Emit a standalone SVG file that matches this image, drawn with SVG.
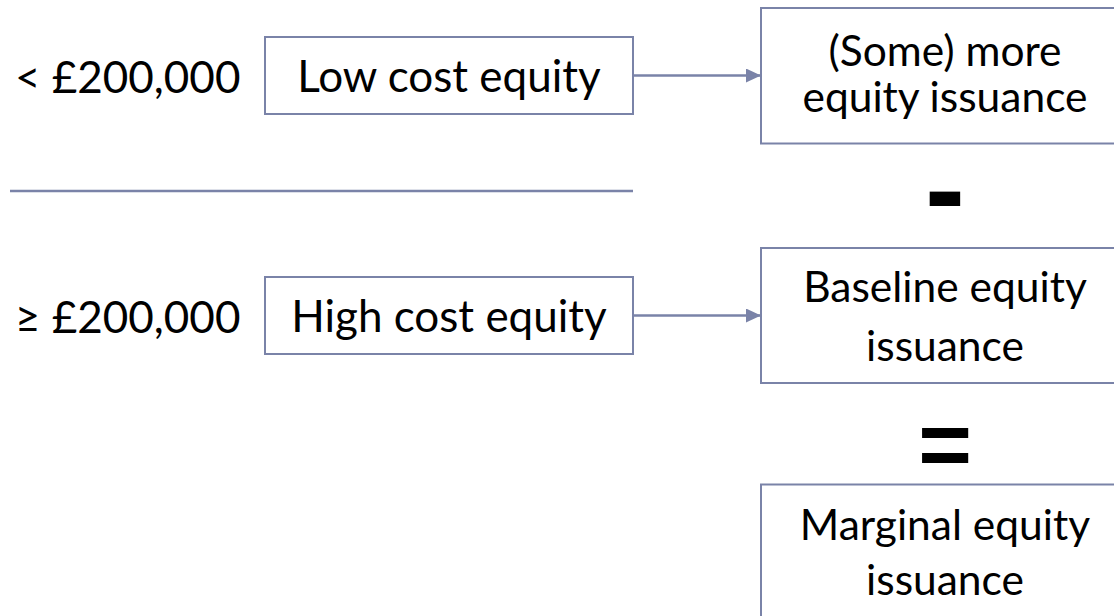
<svg xmlns="http://www.w3.org/2000/svg" width="1114" height="616" viewBox="0 0 1114 616">
<defs>
<style>
.box{fill:#ffffff;stroke:#7a83a8;stroke-width:2}
.lbl{font-family:Lato,"Open Sans","Liberation Sans",sans-serif;fill:#000000}
.l{font-size:44px}
.r{font-size:42.5px;text-anchor:middle}
.c{text-anchor:middle}
.conn{stroke:#7a83a8;stroke-width:2.5;fill:none}
.op{font-family:"Liberation Sans",Arial,sans-serif;font-weight:bold;fill:#000000;text-anchor:middle}
</style>
<marker id="arr" markerWidth="16" markerHeight="14" refX="15" refY="7" orient="auto" markerUnits="userSpaceOnUse">
<path d="M0,0 L15,7 L0,14 Z" fill="#7a83a8"/>
</marker>
</defs>
<rect width="1114" height="616" fill="#ffffff"/>
<g id="labels">
<text class="lbl l" x="15" y="93">&lt; £200,000</text>
<text class="lbl l" x="15" y="333">≥ £200,000</text>
</g>
<g id="connectors">
<line class="conn" x1="10" y1="191" x2="633" y2="191"/>
<line class="conn" x1="633" y1="75.5" x2="761" y2="75.5" marker-end="url(#arr)"/>
<line class="conn" x1="633" y1="315.5" x2="761" y2="315.5" marker-end="url(#arr)"/>
</g>
<g id="node-low">
<rect class="box" x="265" y="37" width="368" height="77"/>
<text class="lbl l c" x="449" y="91.5">Low cost equity</text>
</g>
<g id="node-high">
<rect class="box" x="265" y="277" width="368" height="77"/>
<text class="lbl l c" x="449" y="331.5">High cost equity</text>
</g>
<g id="node-more">
<rect class="box" x="761" y="8" width="368" height="135.5"/>
<text class="lbl r" x="945" y="66">(Some) more</text>
<text class="lbl r" x="945" y="112">equity issuance</text>
</g>
<g id="node-baseline">
<rect class="box" x="761" y="248" width="368" height="135"/>
<text class="lbl r" x="945" y="302">Baseline equity</text>
<text class="lbl r" x="945" y="360.5">issuance</text>
</g>
<g id="node-marginal">
<rect class="box" x="761" y="484.5" width="368" height="135"/>
<text class="lbl r" x="945" y="540">Marginal equity</text>
<text class="lbl r" x="945" y="595">issuance</text>
</g>
<g id="operators">
<text class="op" x="945" y="230" font-size="120">-</text>
<text class="op" x="945" y="476" font-size="92">=</text>
</g>
</svg>
